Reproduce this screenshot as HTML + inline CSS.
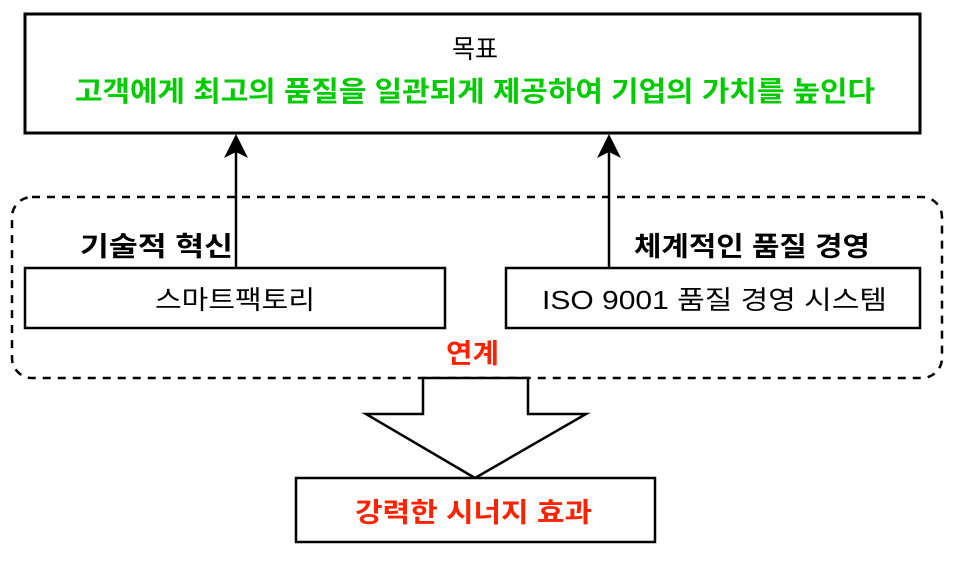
<!DOCTYPE html>
<html><head><meta charset="utf-8"><style>
html,body{margin:0;padding:0;background:#fff}
svg{display:block}
text{font-family:"Liberation Sans","Noto Sans CJK KR",sans-serif}
</style></head><body>
<svg width="954" height="562" viewBox="0 0 954 562" xmlns="http://www.w3.org/2000/svg">
<rect x="25" y="14" width="895" height="119" fill="#fff" stroke="#000" stroke-width="3"/>
<text x="452" y="58" font-size="26" textLength="46" lengthAdjust="spacingAndGlyphs" fill="#000">목표</text>
<text x="75" y="101" font-size="28" font-weight="bold" textLength="800" lengthAdjust="spacingAndGlyphs" fill="#00cc00">고객에게 최고의 품질을 일관되게 제공하여 기업의 가치를 높인다</text>
<rect x="12" y="197" width="930" height="181" rx="20" ry="20" fill="none" stroke="#000" stroke-width="2.5" stroke-dasharray="8,7"/>
<line x1="236" y1="268" x2="236" y2="150" stroke="#000" stroke-width="2.5"/>
<polygon points="236,134 224,158 236,152 248,158" fill="#000"/>
<line x1="609" y1="268" x2="609" y2="150" stroke="#000" stroke-width="2.5"/>
<polygon points="609,134 597,158 609,152 621,158" fill="#000"/>
<text x="80" y="256" font-size="27" font-weight="bold" textLength="153" lengthAdjust="spacingAndGlyphs">기술적 혁신</text>
<text x="634" y="256" font-size="27" font-weight="bold" textLength="236" lengthAdjust="spacingAndGlyphs">체계적인 품질 경영</text>
<rect x="25" y="268" width="420" height="60" fill="#fff" stroke="#000" stroke-width="2.5"/>
<text x="155" y="309" font-size="26" textLength="160" lengthAdjust="spacingAndGlyphs">스마트팩토리</text>
<rect x="506" y="268" width="414" height="60" fill="#fff" stroke="#000" stroke-width="2.5"/>
<text x="542" y="309" font-size="26" textLength="345" lengthAdjust="spacingAndGlyphs">ISO 9001 품질 경영 시스템</text>
<text x="446" y="363" font-size="27" font-weight="bold" textLength="53" lengthAdjust="spacingAndGlyphs" fill="#ff2200">연계</text>
<polygon points="423,378 423,414 366,414 475,478 586,414 528,414 528,378" fill="#fff" stroke="#000" stroke-width="2.5"/>
<rect x="296" y="478" width="359" height="64" fill="#fff" stroke="#000" stroke-width="2.5"/>
<text x="355" y="522" font-size="27" font-weight="bold" textLength="237" lengthAdjust="spacingAndGlyphs" fill="#ff2200">강력한 시너지 효과</text>
</svg>
</body></html>
